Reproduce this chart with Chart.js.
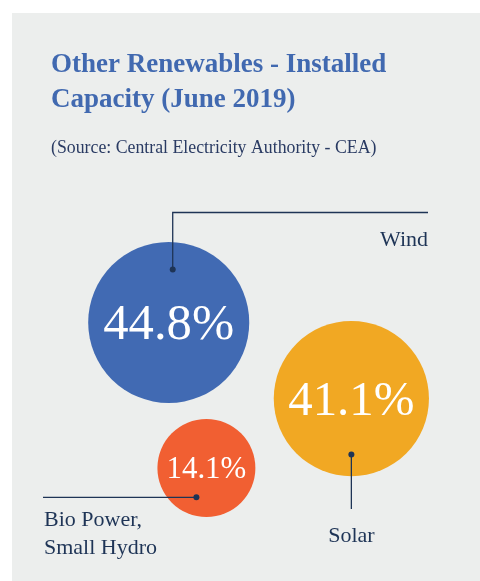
<!DOCTYPE html>
<html>
<head>
<meta charset="utf-8">
<script src="https://cdn.jsdelivr.net/npm/chart.js@4/dist/chart.umd.min.js"></script>
<style>
html,body{margin:0;padding:0;background:#ffffff;}
#wrap{width:480px;height:581px;position:relative;}
</style>
</head>
<body>
<div id="wrap"><canvas id="c"></canvas></div>
<script>
// ---- data ----
const categories = ['Wind', 'Solar', 'Bio Power, Small Hydro'];
const shares = [44.8, 41.1, 14.1];           // % of installed capacity
const bubbleX = [35.15, 73.2, 43.0];          // placement (layout units 0-100)
const bubbleY = [55.5, 68.6, 80.55];
const valueLabels = ['44.8%', '41.1%', '14.1%'];
const titleLines = ['Other Renewables - Installed', 'Capacity (June 2019)'];
const subtitleText = '(Source: Central Electricity Authority - CEA)';

const colors = ['#416ab3', '#f1a823', '#f15f32'];
const navy = '#1e3456';
const SERIF = '"Liberation Serif", "DejaVu Serif", serif';

function radiusFor(v) { return 15.7 * Math.pow(v, 0.43); }

const points = shares.map((v, i) => ({ x: bubbleX[i], y: bubbleY[i], v: v }));

const bgPlugin = {
  id: 'panelBg',
  beforeDraw(chart) {
    const c = chart.ctx;
    c.save();
    c.fillStyle = '#ffffff';
    c.fillRect(0, 0, chart.width, chart.height);
    c.fillStyle = '#eceeed';
    c.fillRect(12, 13, chart.width - 12, chart.height - 13);
    // title
    c.fillStyle = '#4169b0';
    c.font = 'bold 27px ' + SERIF;
    c.textAlign = 'left';
    c.textBaseline = 'alphabetic';
    c.fillText(titleLines[0], 51, 72);
    c.fillText(titleLines[1], 51, 107);
    c.fillStyle = '#2a3b63';
    c.font = '17.8px ' + SERIF;
    c.fillText(subtitleText, 51, 153);
    c.restore();
  }
};

const labelPlugin = {
  id: 'bubbleLabels',
  afterDatasetsDraw(chart) {
    const c = chart.ctx;
    const meta = chart.getDatasetMeta(0);
    const els = meta.data;
    c.save();
    // values inside bubbles
    els.forEach((el, i) => {
      const r = el.options.radius;
      const fs = 0.63 * r;
      c.fillStyle = '#ffffff';
      c.font = fs.toFixed(1) + 'px ' + SERIF;
      c.textAlign = 'center';
      c.textBaseline = 'alphabetic';
      c.fillText(valueLabels[i], el.x, el.y + fs * 0.33);
    });
    // leader lines
    c.strokeStyle = navy;
    c.fillStyle = navy;
    c.lineWidth = 1.3;
    const dot = (x, y) => { c.beginPath(); c.arc(x, y, 3, 0, Math.PI * 2); c.fill(); };
    c.font = '22px ' + SERIF;
    // Wind
    let e = els[0];
    let dx = e.x + 4, dy = e.y - 53;
    c.beginPath(); c.moveTo(dx, dy); c.lineTo(dx, 212.5); c.lineTo(428, 212.5); c.stroke();
    dot(dx, dy);
    c.textAlign = 'right';
    c.fillText(categories[0], 428, 245.5);
    // Solar
    e = els[1];
    dx = e.x; dy = e.y + 56;
    c.beginPath(); c.moveTo(dx, dy); c.lineTo(dx, 509); c.stroke();
    dot(dx, dy);
    c.textAlign = 'center';
    c.fillText(categories[1], dx, 541.5);
    // Bio / small hydro
    e = els[2];
    dx = e.x - 10; dy = e.y + 29.3;
    c.beginPath(); c.moveTo(dx, dy); c.lineTo(43, dy); c.stroke();
    dot(dx, dy);
    c.textAlign = 'left';
    const parts = categories[2].split(', ');
    c.fillText(parts[0] + ',', 44, 525.5);
    c.fillText(parts[1], 44, 554);
    c.restore();
  }
};

new Chart(document.getElementById('c'), {
  type: 'bubble',
  data: {
    labels: categories,
    datasets: [{
      data: points,
      backgroundColor: colors,
      borderWidth: 0,
      hoverBorderWidth: 0,
      radius: ctx => radiusFor(ctx.raw.v)
    }]
  },
  options: {
    responsive: true,
    maintainAspectRatio: false,
    animation: false,
    clip: false,
    layout: { padding: 0, autoPadding: false },
    scales: {
      x: { type: 'linear', min: 0, max: 100, display: false },
      y: { type: 'linear', min: 0, max: 100, reverse: true, display: false }
    },
    plugins: {
      legend: { display: false },
      tooltip: { enabled: false },
      title: { display: false }
    },
    events: []
  },
  plugins: [bgPlugin, labelPlugin]
});
</script>
</body>
</html>
